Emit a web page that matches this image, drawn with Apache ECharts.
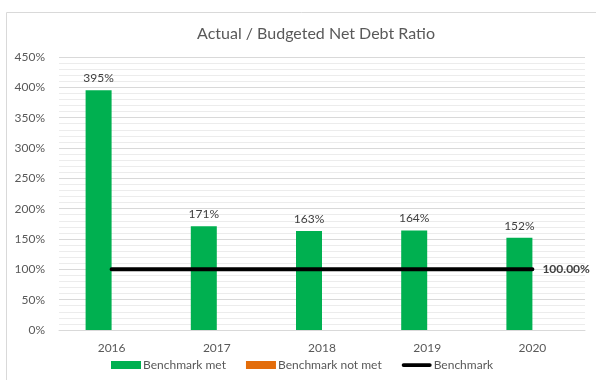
<!DOCTYPE html>
<html>
<head>
<meta charset="utf-8">
<script src="https://cdn.jsdelivr.net/npm/echarts@6/dist/echarts.min.js"></script>
<style>
  html, body { margin: 0; padding: 0; background: #fff; }
  #chart { width: 596px; height: 380px; }
</style>
</head>
<body>
<div id="chart"></div>
<script>
// Net debt ratio per year, in percent
const years = ['2016', '2017', '2018', '2019', '2020'];
const benchmarkMet = [395, 171, 163, 164, 152];
const benchmarkNotMet = [null, null, null, null, null];
const benchmarkValues = [100, 100, 100, 100, 100];
const yTicks = { min: 0, max: 450, interval: 50 };

const FONT = 'Lato';
const GREY = '#595959';

// Thick rounded bar used as the legend swatch of the benchmark line,
// padded vertically so it sits centred in the 8px legend box
const LINE_ICON = 'path://M0,0 L0.01,0 M2,2 L30,2 A2,2 0 0 1 30,6 L2,6 A2,2 0 0 1 2,2 Z M0,8 L0.01,8';

const chart = echarts.init(document.getElementById('chart'), null, { renderer: 'canvas' });

chart.setOption({
  animation: false,
  textStyle: { fontFamily: FONT },
  graphic: [{
    type: 'rect',
    shape: { x: 6.5, y: 12.5, width: 620, height: 400 },
    style: { fill: 'none', stroke: '#d9d9d9', lineWidth: 1 },
    silent: true,
    z: -1
  }],
  title: {
    text: 'Actual / Budgeted Net Debt Ratio',
    left: 311,
    top: 21,
    textAlign: 'center',
    textStyle: { fontFamily: FONT, fontSize: 16, fontWeight: 'normal', color: GREY }
  },
  grid: { left: 59, right: 11, top: 57, bottom: 50 },
  legend: {
    bottom: 4,
    left: 106,
    itemGap: 20,
    itemWidth: 30,
    itemHeight: 8,
    textStyle: { fontFamily: FONT, fontSize: 12, color: GREY, padding: [0, 0, 0, -3] },
    data: [
      { name: 'Benchmark met', icon: 'rect' },
      { name: 'Benchmark not met', icon: 'rect' },
      { name: 'Benchmark', icon: LINE_ICON, itemStyle: { color: '#000' } }
    ]
  },
  xAxis: {
    type: 'category',
    data: years,
    boundaryGap: true,
    axisLine: { lineStyle: { color: '#d9d9d9' } },
    axisTick: { show: false },
    axisLabel: { color: GREY, fontSize: 12, margin: 12, fontFamily: FONT }
  },
  yAxis: {
    type: 'value',
    min: yTicks.min,
    max: yTicks.max,
    interval: yTicks.interval,
    axisLine: { show: false },
    axisTick: { show: false },
    axisLabel: { color: GREY, fontSize: 12, margin: 14, fontFamily: FONT, formatter: v => v + '%' },
    splitLine: { lineStyle: { color: '#d9d9d9', width: 1 } },
    minorTick: { show: false, splitNumber: 5 },
    minorSplitLine: { show: true, lineStyle: { color: '#ececec', width: 1 } }
  },
  series: [
    {
      name: 'Benchmark met',
      type: 'bar',
      data: benchmarkMet,
      barWidth: 26,
      barGap: '0%',
      itemStyle: { color: '#00b050' },
      label: {
        show: true,
        position: 'top',
        distance: 6,
        color: '#404040',
        fontSize: 12,
        fontFamily: FONT,
        formatter: p => p.value + '%'
      }
    },
    {
      name: 'Benchmark not met',
      type: 'bar',
      data: benchmarkNotMet,
      barWidth: 26,
      barGap: '0%',
      itemStyle: { color: '#e36c0a' }
    },
    {
      name: 'Benchmark',
      type: 'line',
      data: benchmarkValues,
      symbol: 'none',
      lineStyle: { color: '#000', width: 4, cap: 'round' },
      itemStyle: { color: '#000' },
      endLabel: {
        show: true,
        distance: 10,
        color: '#404040',
        fontSize: 12,
        fontWeight: 'bold',
        fontFamily: FONT,
        formatter: p => p.value.toFixed(2) + '%'
      },
      z: 5
    }
  ]
});
</script>
</body>
</html>
